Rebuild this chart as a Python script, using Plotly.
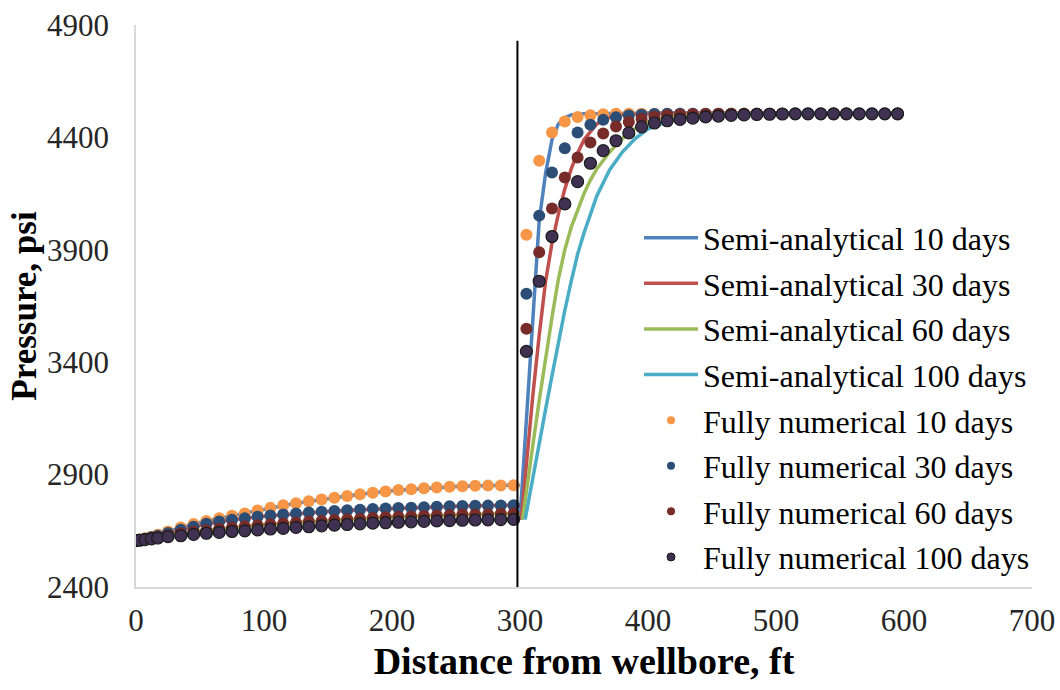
import plotly.graph_objects as go

# ---- fully numerical solution: cell-centred grid (ft) ----
NUM_X = [0, 3, 7, 12, 17, 25, 35, 45, 55, 65, 75, 85, 95, 105, 115, 125, 135, 145,
         155, 165, 175, 185, 195, 205, 215, 225, 235, 245, 255, 265, 275, 285, 295,
         305, 315, 325, 335, 345, 355, 365, 375, 385, 395, 405, 415, 425, 435, 445,
         455, 465, 475, 485, 495, 505, 515, 525, 535, 545, 555, 565, 575, 585, 595]

NUM_10 = [2606, 2611, 2617, 2624, 2632, 2647, 2665, 2680, 2694, 2706, 2717, 2727, 2740,
          2752, 2764, 2773, 2781, 2789, 2797, 2805, 2813, 2819, 2825, 2831, 2835, 2839,
          2843, 2846, 2848, 2850, 2851, 2852, 2853,
          3967, 4296, 4422, 4471, 4491, 4499, 4503, 4505, 4505, 4505, 4505, 4505, 4505,
          4505, 4505, 4505, 4505, 4505, 4505, 4505, 4505, 4505, 4505, 4505, 4505, 4505,
          4505, 4505, 4505, 4505]
NUM_30 = [2606, 2610, 2615, 2621, 2628, 2640, 2655, 2668, 2681, 2691, 2699, 2706, 2712,
          2718, 2723, 2727, 2731, 2735, 2738, 2741, 2744, 2747, 2749, 2751, 2753, 2755,
          2757, 2759, 2760, 2761, 2762, 2763, 2764,
          3704, 4052, 4244, 4352, 4422, 4456, 4478, 4490, 4497, 4501, 4504, 4505, 4505,
          4505, 4505, 4505, 4505, 4505, 4505, 4505, 4505, 4505, 4505, 4505, 4505, 4505,
          4505, 4505, 4505, 4505]
NUM_60 = [2606, 2609, 2613, 2617, 2622, 2630, 2638, 2646, 2653, 2659, 2665, 2670, 2675,
          2679, 2683, 2687, 2691, 2694, 2698, 2701, 2704, 2707, 2710, 2712, 2714, 2716,
          2718, 2720, 2722, 2723, 2724, 2726, 2727,
          3549, 3889, 4084, 4222, 4311, 4377, 4417, 4448, 4469, 4483, 4492, 4498, 4501,
          4503, 4504, 4505, 4505, 4505, 4505, 4505, 4505, 4505, 4505, 4505, 4505, 4505,
          4505, 4505, 4505, 4505]
NUM_100 = [2606, 2608, 2611, 2614, 2618, 2624, 2628, 2634, 2639, 2643, 2647, 2650, 2654,
           2658, 2661, 2665, 2668, 2672, 2675, 2678, 2681, 2684, 2686, 2688, 2690, 2692,
           2694, 2695, 2697, 2698, 2699, 2700, 2701,
           3448, 3760, 3959, 4104, 4203, 4285, 4341, 4385, 4420, 4447, 4464, 4474, 4480,
           4486, 4491, 4495, 4498, 4500, 4502, 4503, 4504, 4505, 4505, 4505, 4505, 4505,
           4505, 4505, 4505, 4505]

# ---- semi-analytical solution: inner region (0-300 ft) ----
SA_LX = [0, 10, 25, 50, 75, 100, 125, 150, 175, 200, 225, 250, 275, 300]
SA10_L = [2606, 2620, 2647, 2687, 2717, 2746, 2773, 2793, 2813, 2828, 2839, 2847, 2851, 2853]
SA30_L = [2606, 2618, 2640, 2675, 2699, 2715, 2727, 2736, 2744, 2750, 2755, 2759, 2762, 2764]
SA60_L = [2606, 2616, 2630, 2650, 2665, 2677, 2687, 2696, 2704, 2711, 2716, 2721, 2724, 2727]
SA100_L = [2606, 2613, 2624, 2637, 2647, 2656, 2665, 2673, 2681, 2687, 2692, 2696, 2699, 2701]

# ---- semi-analytical solution: outer region (300-600 ft) ----
SA10_RX = [300, 302.5, 305, 310, 312.5, 315, 320, 325, 330, 335, 340, 350, 400, 600]
SA10_R = [2700, 2920, 3140, 3585, 3808, 4030, 4240, 4390, 4460, 4488, 4500, 4505, 4507, 4507]
SA30_RX = [301, 305, 310, 315, 320, 325, 330, 335, 340, 345, 350, 360, 370, 380, 400, 600]
SA30_R = [2700, 2950, 3250, 3520, 3760, 3930, 4060, 4170, 4260, 4330, 4390, 4460, 4490,
          4502, 4507, 4507]
SA60_RX = [302, 305, 310, 315, 320, 325, 330, 335, 340, 345, 350, 355, 360, 370, 380, 390,
           400, 420, 440, 600]
SA60_R = [2700, 2830, 3030, 3230, 3420, 3600, 3770, 3900, 4000, 4080, 4150, 4210, 4260,
          4335, 4395, 4440, 4470, 4497, 4505, 4507]
SA100_RX = [304, 310, 315, 320, 325, 330, 335, 340, 345, 350, 355, 360, 370, 380, 390, 400,
            420, 440, 460, 500, 600]
SA100_R = [2700, 2890, 3040, 3190, 3340, 3490, 3630, 3760, 3880, 3975, 4060, 4140, 4255,
           4335, 4395, 4438, 4480, 4498, 4504, 4507, 4507]

BOUNDARY_X = 298
BOUNDARY_TOP = 4830

FONT = "Liberation Serif"

fig = go.Figure()

semi = [
    ("Semi-analytical 10 days", "#4F81BD", SA10_L, SA10_RX, SA10_R),
    ("Semi-analytical 30 days", "#C0504D", SA30_L, SA30_RX, SA30_R),
    ("Semi-analytical 60 days", "#9BBB59", SA60_L, SA60_RX, SA60_R),
    ("Semi-analytical 100 days", "#4BACC6", SA100_L, SA100_RX, SA100_R),
]
for name, color, yl, xr, yr in semi:
    fig.add_trace(go.Scatter(
        x=SA_LX + [None] + xr, y=yl + [None] + yr, mode="lines", name=name,
        legendgroup=name, line=dict(color=color, width=3.5), connectgaps=False,
    ))

numeric = [
    ("Fully numerical 10 days", "#F79646", NUM_10, None),
    ("Fully numerical 30 days", "#2C4D75", NUM_30, None),
    ("Fully numerical 60 days", "#772C2A", NUM_60, None),
    ("Fully numerical 100 days", "#403152", NUM_100, "#1a1a1a"),
]
for name, color, yv, edge in numeric:
    mk = dict(color=color, size=12)
    if edge:
        mk["line"] = dict(color=edge, width=1.2)
    fig.add_trace(go.Scatter(x=NUM_X, y=yv, mode="markers", name=name,
                             marker=mk, showlegend=False))

# smaller symbols for the legend entries of the numerical series
for name, color, yv, edge in numeric:
    mk = dict(color=color, size=8)
    if edge:
        mk["line"] = dict(color=edge, width=1)
    fig.add_trace(go.Scatter(x=[None], y=[None], mode="markers", name=name,
                             legendgroup=name, marker=mk))

fig.add_shape(type="line", xref="x", yref="y", x0=BOUNDARY_X, x1=BOUNDARY_X,
              y0=2400, y1=BOUNDARY_TOP, line=dict(color="black", width=2), layer="above")

fig.update_layout(
    width=1060, height=690,
    margin=dict(l=136, r=28, t=25, b=103, autoexpand=False),
    paper_bgcolor="white", plot_bgcolor="white",
    font=dict(family=FONT, size=31, color="#262626"),
    showlegend=True,
    legend=dict(x=0.5614, y=0.670, xanchor="left", yanchor="top",
                font=dict(family=FONT, size=32, color="black"),
                bgcolor="rgba(0,0,0,0)", tracegroupgap=1, itemwidth=54),
    xaxis=dict(range=[0, 700], tick0=0, dtick=100, showgrid=False, zeroline=False,
               showline=True, linecolor="#d9d9d9", linewidth=1.5,
               ticks="outside", ticklen=5, tickcolor="rgba(0,0,0,0)",
               tickfont=dict(family=FONT, size=31, color="#262626"),
               title=dict(text="<b>Distance from wellbore, ft</b>",
                          font=dict(family=FONT, size=38, color="black"), standoff=10)),
    yaxis=dict(range=[2400, 4900], tick0=2400, dtick=500, showgrid=False, zeroline=False,
               showline=True, linecolor="#d9d9d9", linewidth=1.5,
               ticks="outside", ticklen=19, tickcolor="rgba(0,0,0,0)",
               tickfont=dict(family=FONT, size=31, color="#262626"),
               title=dict(text="<b>Pressure, psi</b>",
                          font=dict(family=FONT, size=35, color="black"), standoff=0)),
)

fig.write_html("out.html")
